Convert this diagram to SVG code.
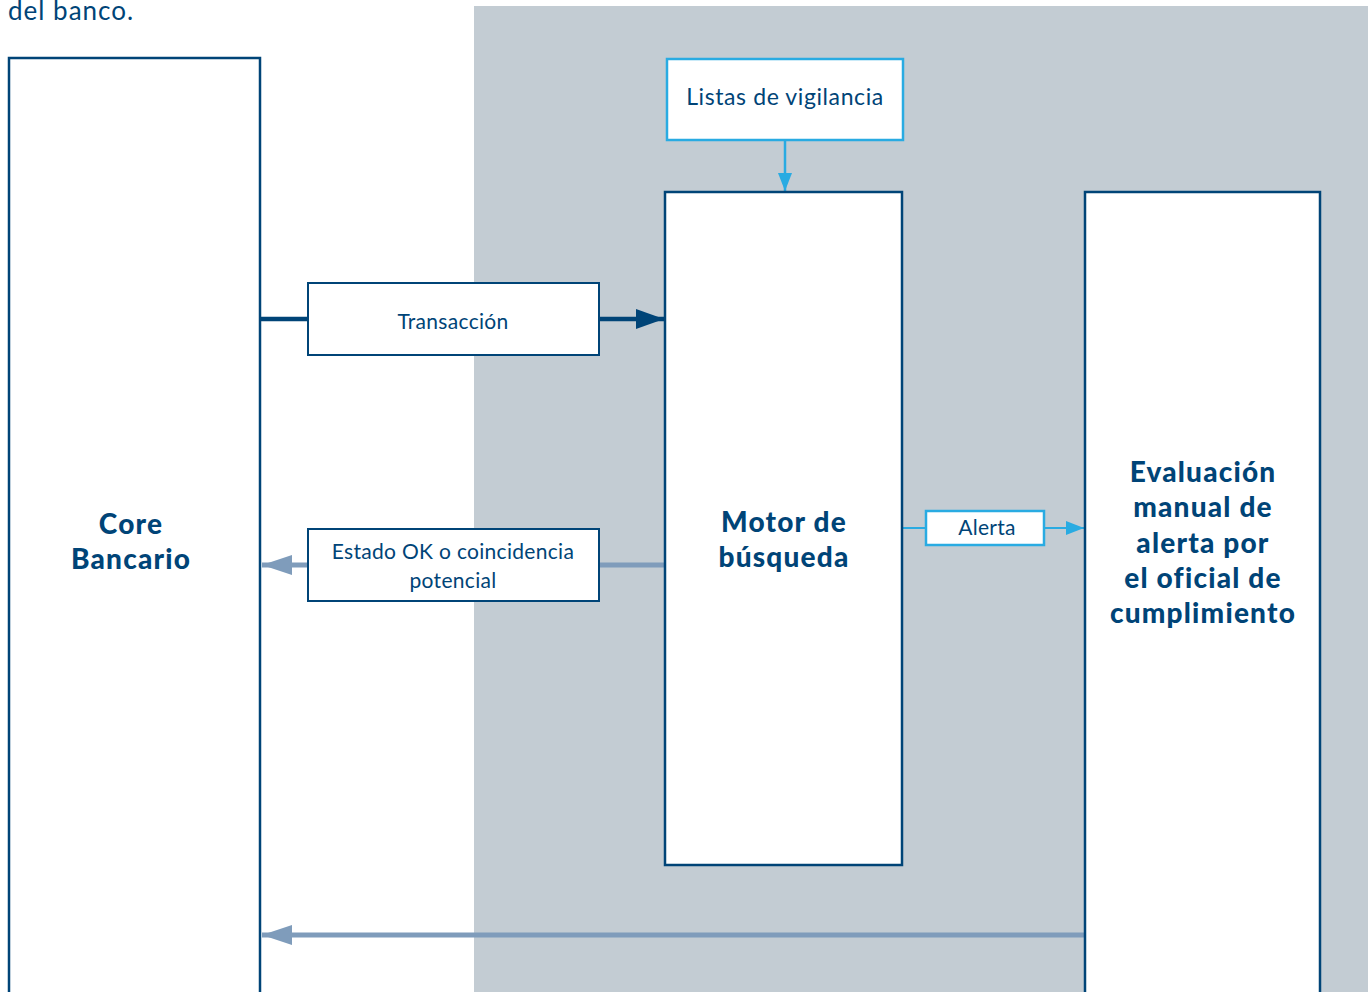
<svg xmlns="http://www.w3.org/2000/svg" width="1370" height="992" viewBox="0 0 1370 992">
<style>
.node{fill:#fff;stroke:#004477;stroke-width:2.5}
.lnode{fill:#fff;stroke:#29abe2;stroke-width:2.5}
.lbl{fill:#fff;stroke:#004477;stroke-width:2}
.title{font-family:Lato,"Open Sans",sans-serif;font-weight:900;font-size:28px;letter-spacing:1.2px;fill:#004477;text-anchor:middle}
.txt{font-family:Lato,"Open Sans",sans-serif;font-weight:400;font-size:21px;letter-spacing:0.3px;fill:#004477;text-anchor:middle}
</style>
<defs>
<marker id="ahDark" markerWidth="28" markerHeight="20" refX="28" refY="10" orient="auto" markerUnits="userSpaceOnUse"><path d="M0,0 L28,10 L0,20 Z" fill="#004477"/></marker>
<marker id="ahGrey" markerWidth="30" markerHeight="20" refX="30" refY="10" orient="auto" markerUnits="userSpaceOnUse"><path d="M0,0 L30,10 L0,20 Z" fill="#7f9cbb"/></marker>
<marker id="ahBlue" markerWidth="18" markerHeight="14" refX="18" refY="7" orient="auto" markerUnits="userSpaceOnUse"><path d="M0,0 L18,7 L0,14 Z" fill="#29abe2"/></marker>
</defs>
<rect x="0" y="0" width="1370" height="992" fill="#fff"/>
<rect x="474" y="6" width="894" height="986" fill="#c3ccd3"/>
<text x="8" y="20" style="font-family:Lato,'Open Sans',sans-serif;font-size:26px;letter-spacing:1px;fill:#004477">del banco.</text>
<g id="connectors">
<line x1="260" y1="319" x2="664" y2="319" stroke="#004477" stroke-width="4.5" marker-end="url(#ahDark)"/>
<line x1="665" y1="565" x2="262" y2="565" stroke="#7f9cbb" stroke-width="5" marker-end="url(#ahGrey)"/>
<line x1="1084" y1="935" x2="262" y2="935" stroke="#7f9cbb" stroke-width="5" marker-end="url(#ahGrey)"/>
<line x1="785" y1="140" x2="785" y2="191" stroke="#29abe2" stroke-width="2.5" marker-end="url(#ahBlue)"/>
<line x1="902" y1="528" x2="1084" y2="528" stroke="#29abe2" stroke-width="2" marker-end="url(#ahBlue)"/>
</g>
<g id="core">
<rect class="node" x="9" y="58" width="251" height="950"/>
<text class="title" x="131" y="534">Core</text>
<text class="title" x="131" y="569">Bancario</text>
</g>
<g id="listas">
<rect class="lnode" x="667" y="59" width="236" height="81"/>
<text class="txt" x="785" y="105" style="font-size:23px;letter-spacing:0.6px">Listas de vigilancia</text>
</g>
<g id="motor">
<rect class="node" x="665" y="192" width="237" height="673"/>
<text class="title" x="784" y="532">Motor de</text>
<text class="title" x="784" y="567">búsqueda</text>
</g>
<g id="evaluacion">
<rect class="node" x="1085" y="192" width="235" height="820"/>
<text class="title" x="1203" y="482">Evaluación</text>
<text class="title" x="1203" y="517">manual de</text>
<text class="title" x="1203" y="553">alerta por</text>
<text class="title" x="1203" y="588">el oficial de</text>
<text class="title" x="1203" y="623">cumplimiento</text>
</g>
<g id="transaccion">
<rect class="lbl" x="308" y="283" width="291" height="72"/>
<text class="txt" x="453" y="329">Transacción</text>
</g>
<g id="estado">
<rect class="lbl" x="308" y="529" width="291" height="72"/>
<text class="txt" x="453" y="559">Estado OK o coincidencia</text>
<text class="txt" x="453" y="588">potencial</text>
</g>
<g id="alerta">
<rect class="lnode" x="926" y="511" width="118" height="34"/>
<text class="txt" x="987" y="535">Alerta</text>
</g>
</svg>
